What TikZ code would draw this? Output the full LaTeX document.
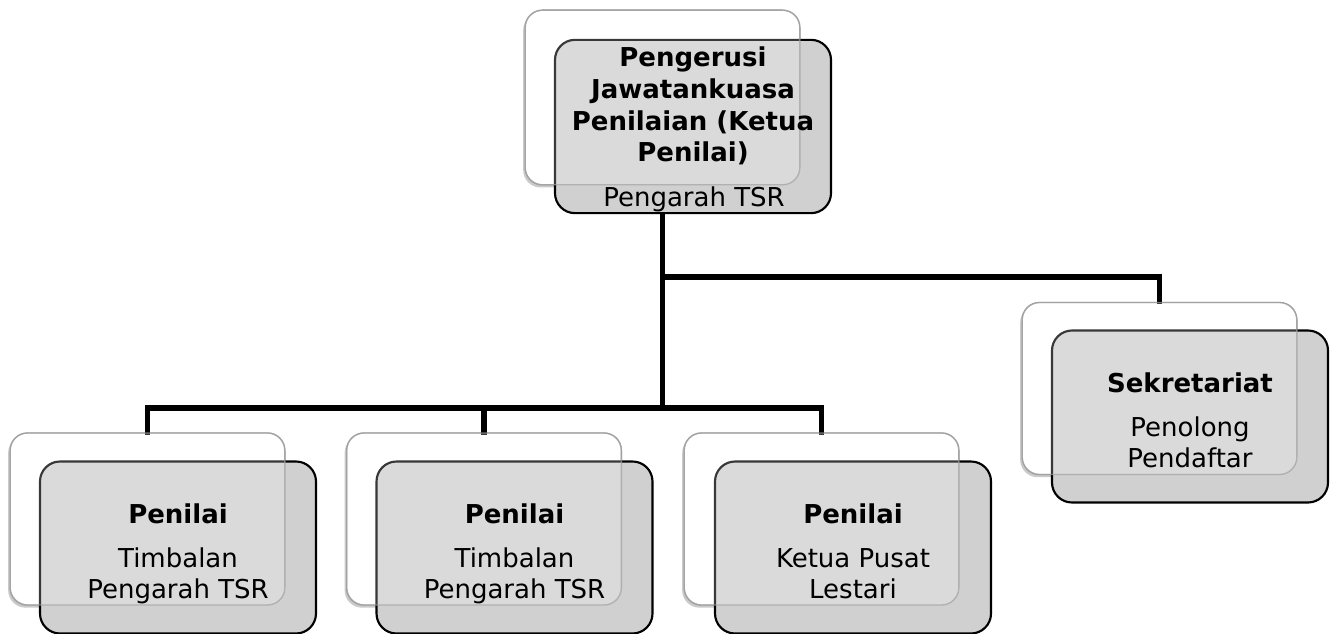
\documentclass[tikz,border=0pt]{standalone}
\usepackage{fontspec}
\setmainfont{DejaVu Sans}
\usetikzlibrary{shadows}
\definecolor{boxgray}{HTML}{D0D0D0}
\definecolor{backedge}{HTML}{A0A0A0}
\tikzset{
  backbox/.style={rectangle, rounded corners=13pt, fill=white, draw=backedge, line width=1pt,
    minimum width=206pt, minimum height=129pt, inner sep=0pt,
    drop shadow={shadow xshift=-1.5pt, shadow yshift=-2pt, opacity=0.35, fill=black!60}},
  frontbox/.style={rectangle, rounded corners=15pt, fill=boxgray, draw=black, line width=1.6pt,
    minimum width=207pt, minimum height=129pt, inner sep=0pt},
  overlay/.style={rectangle, rounded corners=13pt, fill=white, fill opacity=0.22, draw=backedge, draw opacity=0.7, line width=1pt,
    minimum width=206pt, minimum height=129pt, inner sep=0pt},
  conn/.style={line width=3.8pt, line join=miter, line cap=rect, draw=black},
  titletext/.style={font=\fontsize{19.5}{23.6}\selectfont\bfseries, anchor=base, inner sep=0pt},
  subtext/.style={font=\fontsize{19.5}{23.6}\selectfont, anchor=base, inner sep=0pt},
}
\begin{document}
\begin{tikzpicture}[x=0.75pt, y=-0.75pt]
\useasboundingbox (0,0) rectangle (1334,634);
% connector junctions
\coordinate (j1) at (662.5,277);
\coordinate (j2) at (662.5,408);
% back boxes positions (for connectors)
\path (662.5,97.5) coordinate (topc) (147.5,519) coordinate (b1c) (484,519) coordinate (b2c)
      (821.5,519) coordinate (b3c) (1159.5,388.5) coordinate (skc);
% back boxes
\node[backbox, minimum height=131pt] (topW) at (topc) {};
\node[backbox] (b1W) at (b1c) {};
\node[backbox] (b2W) at (b2c) {};
\node[backbox] (b3W) at (b3c) {};
\node[backbox] (skW) at (skc) {};
% connectors
\draw[conn] (topW.center) -- (j2);
\draw[conn] (j1) -| (skW.north);
\draw[conn] (b1W.north) |- (j2) -| (b3W.north);
\draw[conn] (j2 -| b2W.north) -- (b2W.north);
% front boxes
\node[frontbox, minimum height=130pt] (topG) at (693,126.5) {};
\node[frontbox] (b1G) at (178,547.5) {};
\node[frontbox] (b2G) at (514.5,547.5) {};
\node[frontbox] (b3G) at (853,547.5) {};
\node[frontbox] (skG) at (1190,416.5) {};
% translucent overlay of back boxes
\node[overlay, minimum height=131pt] (topO) at (topc) {};
\node[overlay] (b1O) at (b1c) {};
\node[overlay] (b2O) at (b2c) {};
\node[overlay] (b3O) at (b3c) {};
\node[overlay] (skO) at (skc) {};
% texts
\node[titletext] (topT1) at (693,67) {Pengerusi};
\node[titletext] (topT2) at (693,99) {Jawatankuasa};
\node[titletext] (topT3) at (693,131) {Penilaian (Ketua};
\node[titletext] (topT4) at (693,162) {Penilai)};
\node[subtext] (topS) at (694,207) {Pengarah TSR};
\node[titletext] (b1T) at (178,523) {Penilai};
\node[subtext] (b1S1) at (178,567) {Timbalan};
\node[subtext] (b1S2) at (178,598) {Pengarah TSR};
\node[titletext] (b2T) at (514.5,523) {Penilai};
\node[subtext] (b2S1) at (514.5,567) {Timbalan};
\node[subtext] (b2S2) at (514.5,598) {Pengarah TSR};
\node[titletext] (b3T) at (853,523) {Penilai};
\node[subtext] (b3S1) at (853,567) {Ketua Pusat};
\node[subtext] (b3S2) at (853,598) {Lestari};
\node[titletext] (skT) at (1190,392) {Sekretariat};
\node[subtext] (skS1) at (1190,436) {Penolong};
\node[subtext] (skS2) at (1190,467) {Pendaftar};
\end{tikzpicture}
\end{document}
